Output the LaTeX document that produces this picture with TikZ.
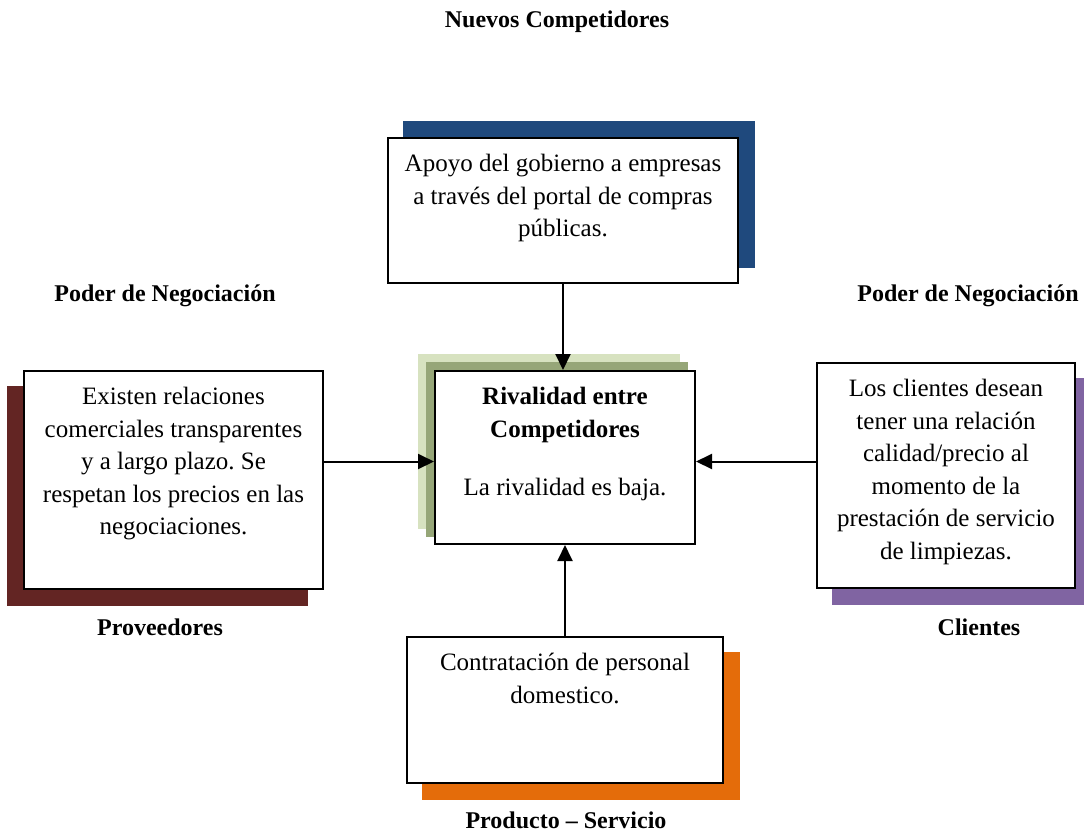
\documentclass[tikz,border=0pt]{standalone}
\usepackage{fontspec}
\setmainfont{Liberation Serif}
\frenchspacing
\usetikzlibrary{positioning,arrows.meta,backgrounds}
\definecolor{pfNavy}{RGB}{31,73,125}
\definecolor{pfMaroon}{RGB}{99,37,35}
\definecolor{pfPurple}{RGB}{128,100,162}
\definecolor{pfOrange}{RGB}{228,108,10}
\definecolor{pfOlive}{RGB}{150,166,120}
\definecolor{pfSage}{RGB}{215,226,192}
\tikzset{
    base/.style={font=\fontsize{12.5}{16.25}\selectfont, align=center},
    force/.style={rectangle, draw=black, line width=1pt, fill=white, inner sep=0pt},
    body/.style={base, inner sep=0pt},
    heading/.style={base, font=\fontsize{12}{14}\selectfont\bfseries},
    flow/.style={-{Triangle[length=8pt,width=7.5pt]}, line width=1pt, color=black}
}

\begin{document}
\begin{tikzpicture}[x=0.5pt,y=-0.5pt]
  \useasboundingbox (0,0) rectangle (1084,832);

  % boxes
  \node[force, minimum width=175pt, minimum height=72.5pt] (gobierno) at (563,210.5) {};
  \node[force, minimum width=130pt, minimum height=86.5pt] (rivalidad) at (565,457.5) {};
  \node[force, minimum width=149.5pt, minimum height=109pt] (proveedores) at (173.5,480) {};
  \node[force, minimum width=129pt, minimum height=112.5pt] (clientes) at (946,475.5) {};
  \node[force, minimum width=158pt, minimum height=73pt] (servicio) at (565,710) {};

  % box texts
  \node[body, below=8.5pt of gobierno.north] (gobiernoText) {Apoyo del gobierno a empresas\\ a través del portal de compras\\ públicas.};
  \node[body, below=8.5pt of rivalidad.north] (rivalidadText) {\textbf{Rivalidad entre}\\ \textbf{Competidores}\\[13pt] La rivalidad es baja.};
  \node[body, below=8.5pt of proveedores.north] (proveedoresText) {Existen relaciones\\ comerciales transparentes\\ y a largo plazo. Se\\ respetan los precios en las\\ negociaciones.};
  \node[body, below=8.5pt of clientes.north] (clientesText) {Los clientes desean\\ tener una relación\\ calidad/precio al\\ momento de la\\ prestación de servicio\\ de limpiezas.};
  \node[body, below=8.5pt of servicio.north] (servicioText) {Contratación de personal\\ domestico.};

  % headings
  \node[heading] (nuevos) at (557,22) {Nuevos Competidores};
  \node[heading] (poderProv) at (165,296) {Poder de Negociación};
  \node[heading] (poderCli) at (968,296) {Poder de Negociación};
  \node[heading] (proveedoresTitle) at (160,627) {Proveedores};
  \node[heading] (clientesTitle) at (979,627) {Clientes};
  \node[heading] (servicioTitle) at (566,820) {Producto – Servicio};

  % shadows
  \begin{scope}[on background layer]
    \fill[pfNavy] ([xshift=8pt,yshift=8pt]gobierno.south west) rectangle ([xshift=8pt,yshift=8pt]gobierno.north east);
    \fill[pfMaroon] ([xshift=-8pt,yshift=-8pt]proveedores.south west) rectangle ([xshift=-8pt,yshift=-8pt]proveedores.north east);
    \fill[pfPurple] ([xshift=8pt,yshift=-8pt]clientes.south west) rectangle ([xshift=8pt,yshift=-8pt]clientes.north east);
    \fill[pfOrange] ([xshift=8pt,yshift=-8pt]servicio.south west) rectangle ([xshift=8pt,yshift=-8pt]servicio.north east);
    \fill[pfSage] ([xshift=-8pt,yshift=8pt]rivalidad.south west) rectangle ([xshift=-8pt,yshift=8pt]rivalidad.north east);
    \fill[pfOlive] ([xshift=-4pt,yshift=4pt]rivalidad.south west) rectangle ([xshift=-4pt,yshift=4pt]rivalidad.north east);
  \end{scope}

  % arrows
  \draw[flow] (gobierno.south) -- (gobierno.south |- rivalidad.north);
  \draw[flow] ([yshift=-2pt]proveedores.east |- rivalidad.west) -- ([yshift=-2pt]rivalidad.west);
  \draw[flow] ([yshift=-2pt]clientes.west |- rivalidad.east) -- ([yshift=-2pt]rivalidad.east);
  \draw[flow] (servicio.north) -- (servicio.north |- rivalidad.south);
\end{tikzpicture}
\end{document}
